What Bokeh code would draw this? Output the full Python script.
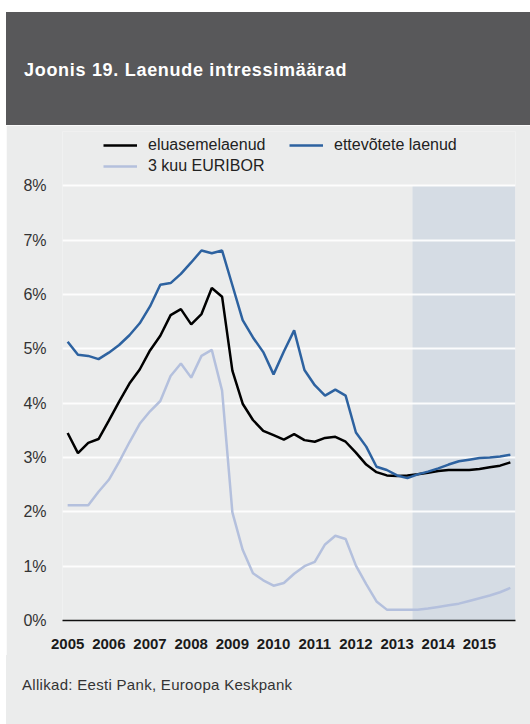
from bokeh.plotting import figure
from bokeh.models import (Div, Legend, LegendItem, FixedTicker, PrintfTickFormatter,
                          ColumnDataSource)
from bokeh.layouts import column
from bokeh.embed import file_html
from bokeh.resources import INLINE

# ---- data (quarterly, 2005Q1 .. 2015Q4) ----
years = list(range(2005, 2016))
quarters = [1, 2, 3, 4]

eluasemelaenud = [3.45, 3.08, 3.27, 3.34, 3.68, 4.03, 4.36, 4.62, 4.97, 5.24, 5.62,
                  5.73, 5.45, 5.64, 6.12, 5.96, 4.60, 3.99, 3.69, 3.49, 3.41, 3.33,
                  3.43, 3.32, 3.29, 3.36, 3.38, 3.29, 3.09, 2.87, 2.73, 2.67, 2.66,
                  2.67, 2.69, 2.72, 2.75, 2.77, 2.77, 2.77, 2.79, 2.82, 2.85, 2.91]
ettevotete = [5.13, 4.89, 4.87, 4.81, 4.93, 5.07, 5.25, 5.47, 5.78, 6.18, 6.21,
              6.38, 6.59, 6.81, 6.76, 6.81, 6.17, 5.53, 5.21, 4.94, 4.53, 4.95,
              5.34, 4.61, 4.33, 4.14, 4.25, 4.14, 3.46, 3.20, 2.83, 2.77, 2.67,
              2.62, 2.69, 2.74, 2.80, 2.87, 2.93, 2.96, 2.99, 3.00, 3.02, 3.05]
euribor = [2.12, 2.12, 2.12, 2.37, 2.59, 2.92, 3.28, 3.62, 3.85, 4.04, 4.50,
           4.73, 4.47, 4.87, 4.98, 4.23, 1.99, 1.30, 0.87, 0.74, 0.64, 0.69,
           0.86, 1.00, 1.08, 1.40, 1.56, 1.50, 1.01, 0.67, 0.35, 0.20, 0.20,
           0.20, 0.20, 0.22, 0.25, 0.28, 0.31, 0.36, 0.41, 0.46, 0.52, 0.60]

forecast_start = (2013, 3)   # first forecast quarter
y_ticks = [0, 1, 2, 3, 4, 5, 6, 7, 8]

labels = ["eluasemelaenud", "ettevõtete laenud", "3 kuu EURIBOR"]
title_text = "Joonis 19. Laenude intressimäärad"
source_text = "Allikad: Eesti Pank, Euroopa Keskpank"

# ---- derived positions ----
xq = [y + (q - 1) / 4 for y in years for q in quarters]
src = ColumnDataSource(dict(x=xq, a=eluasemelaenud, b=ettevotete, c=euribor))

FONT = "Liberation Sans"
BG = "#ebecec"

p = figure(width=524, height=530, output_backend="svg", toolbar_location=None,
           x_range=(xq[0] - 0.125, xq[-1] + 0.125), y_range=(0, 9),
           min_border_top=6, min_border_bottom=35, min_border_left=56, min_border_right=15,
           background_fill_color=BG, border_fill_color=BG, outline_line_color=None,
           margin=0)

fs = forecast_start[0] + (forecast_start[1] - 1) / 4 - 0.125
p.quad(left=[fs], right=[xq[-1] + 0.125], bottom=[y_ticks[0]], top=[y_ticks[-1]],
       fill_color="#d5dce4", line_color=None, level="image")

r_a = p.line("x", "a", source=src, line_color="#000000", line_width=2.5)
r_b = p.line("x", "b", source=src, line_color="#2d62a0", line_width=2.5)
r_c = p.line("x", "c", source=src, line_color="#b4c0dd", line_width=2.5)

p.xgrid.visible = False
p.ygrid.ticker = FixedTicker(ticks=y_ticks)
p.ygrid.grid_line_color = "#ffffff"
p.ygrid.grid_line_width = 2
p.ygrid.grid_line_alpha = 0.9

p.yaxis.ticker = FixedTicker(ticks=y_ticks)
p.yaxis.formatter = PrintfTickFormatter(format="%d%%")
p.yaxis.axis_line_color = None
p.yaxis.major_tick_line_color = None
p.yaxis.minor_tick_line_color = None
p.yaxis.major_label_standoff = 10
p.yaxis.major_label_text_font = FONT
p.yaxis.major_label_text_font_size = "16px"
p.yaxis.major_label_text_color = "#333333"

p.xaxis.ticker = FixedTicker(ticks=years)
p.xaxis.formatter = PrintfTickFormatter(format="%d")
p.xaxis.axis_line_color = "#111111"
p.xaxis.axis_line_width = 1.5
p.xaxis.major_tick_line_color = None
p.xaxis.minor_tick_line_color = None
p.xaxis.major_label_standoff = 12
p.xaxis.major_label_text_font = FONT
p.xaxis.major_label_text_font_size = "15px"
p.xaxis.major_label_text_font_style = "bold"
p.xaxis.major_label_text_color = "#1a1a1a"

legend = Legend(items=[LegendItem(label=labels[0], renderers=[r_a]),
                       LegendItem(label=labels[1], renderers=[r_b]),
                       LegendItem(label=labels[2], renderers=[r_c])],
                location=(41, 444), orientation="horizontal", ncols=2,
                glyph_width=34, glyph_height=20, label_height=20, label_width=140,
                label_standoff=11, spacing=1, padding=0, margin=0,
                border_line_color=None, background_fill_alpha=0,
                label_text_font=FONT, label_text_font_size="16px",
                label_text_color="#222222")
p.add_layout(legend, "center")

header = Div(text=('<div style="font-family:\'Liberation Sans\',Arial,sans-serif;'
                   'font-weight:bold;font-size:18px;letter-spacing:0.7px;color:#ffffff;'
                   'padding:47px 0 0 18px;line-height:22px;">' + title_text + '</div>'),
             width=524, height=113, margin=0,
             styles={"background-color": "#58585a"})
footer = Div(text=('<div style="font-family:\'Liberation Sans\',Arial,sans-serif;'
                   'font-size:15px;letter-spacing:0.3px;color:#333333;padding:20px 0 0 16px;'
                   'line-height:20px;">' + source_text + '</div>'),
             width=524, height=69, margin=0,
             styles={"background-color": BG})

layout = column(header, p, footer, spacing=0, margin=(12, 0, 0, 6))

open("out.html", "w").write(file_html(layout, INLINE))
